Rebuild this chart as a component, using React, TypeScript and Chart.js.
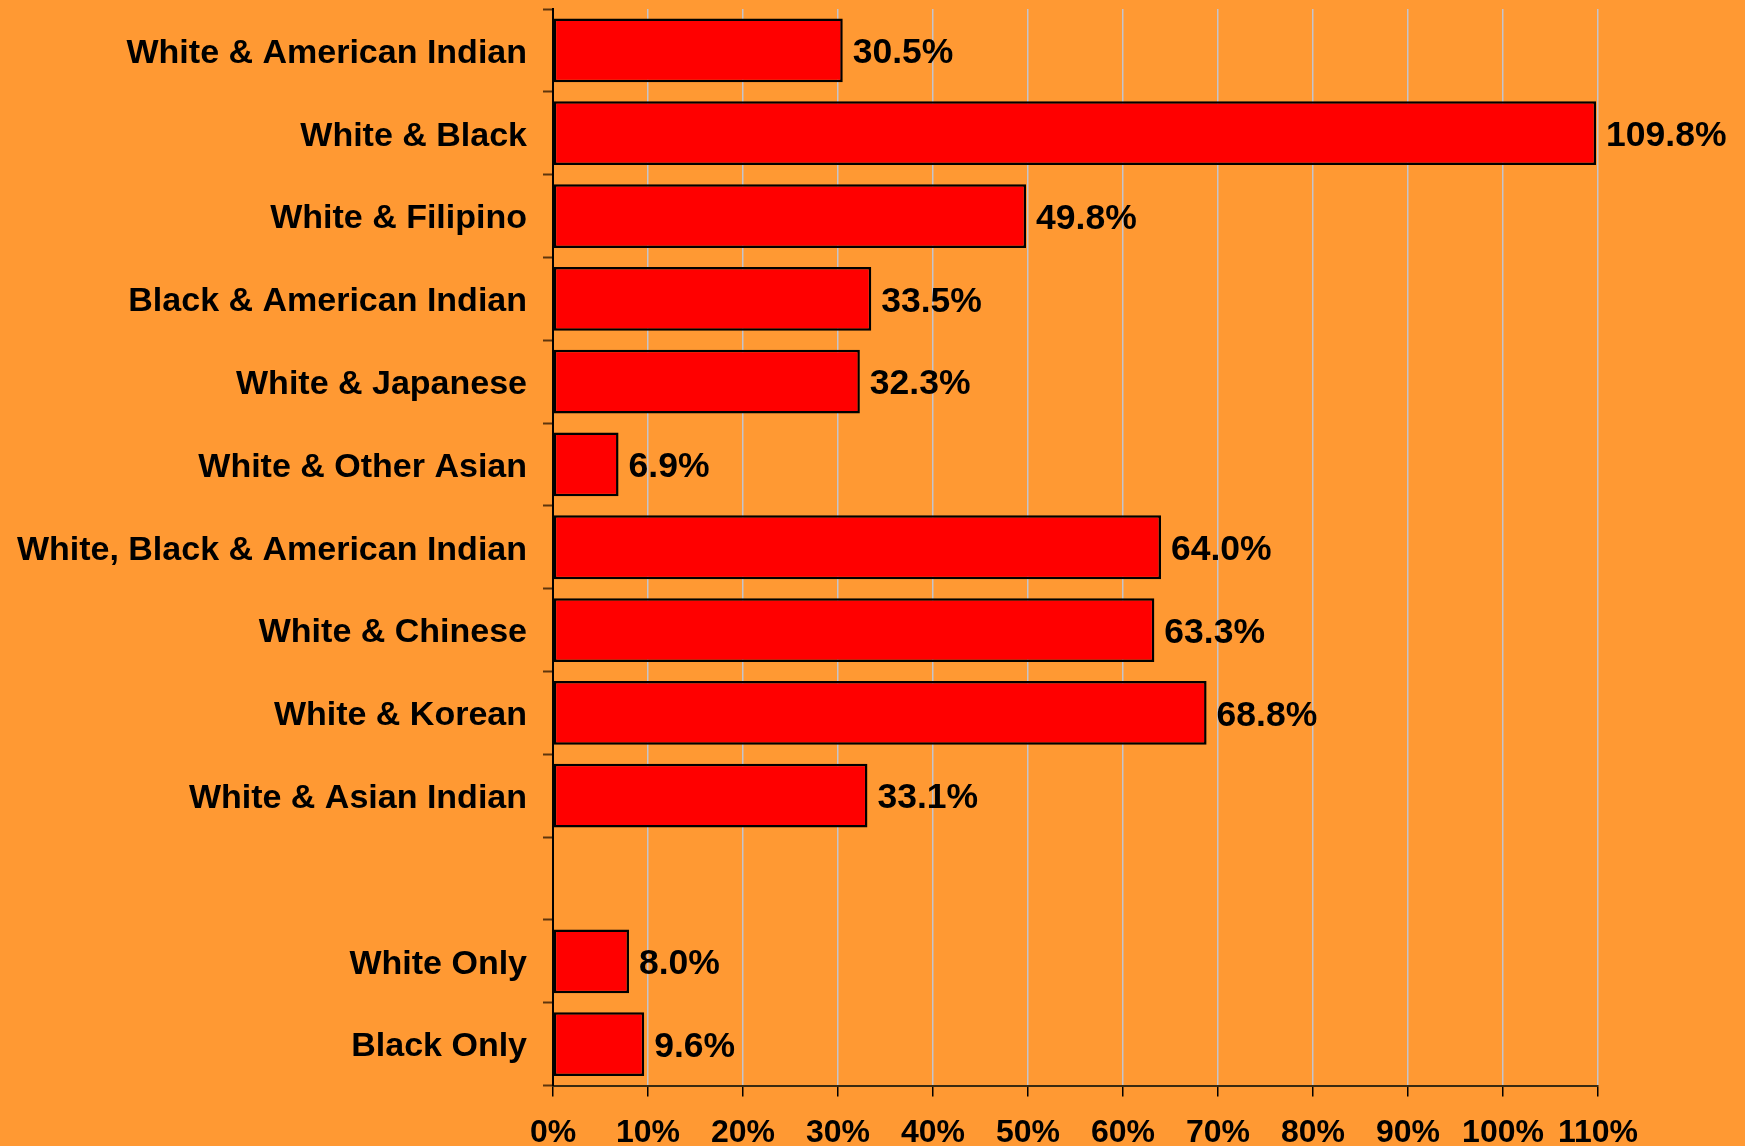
import React, { useEffect, useRef } from "react";
import { Chart, registerables } from "chart.js";

Chart.register(...registerables);

const categories: string[] = [
  "White & American Indian",
  "White & Black",
  "White & Filipino",
  "Black & American Indian",
  "White & Japanese",
  "White & Other Asian",
  "White, Black & American Indian",
  "White & Chinese",
  "White & Korean",
  "White & Asian Indian",
  "",
  "White Only",
  "Black Only",
];

const values: (number | null)[] = [
  30.5, 109.8, 49.8, 33.5, 32.3, 6.9, 64.0, 63.3, 68.8, 33.1, null, 8.0, 9.6,
];

const xTickValues: number[] = [0, 10, 20, 30, 40, 50, 60, 70, 80, 90, 100, 110];

const FONT = "'Liberation Sans', Arial, sans-serif";
const BG = "#FF9933";

const bgPlugin = {
  id: "bgFill",
  beforeDraw(chart: any) {
    const ctx = chart.ctx;
    ctx.save();
    ctx.fillStyle = BG;
    ctx.fillRect(0, 0, chart.width, chart.height);
    ctx.restore();
  },
};

const valueLabelPlugin = {
  id: "valueLabels",
  afterDatasetsDraw(chart: any) {
    const ctx = chart.ctx;
    const meta = chart.getDatasetMeta(0);
    const data = chart.data.datasets[0].data;
    ctx.save();
    ctx.font = `bold 35.5px ${FONT}`;
    ctx.fillStyle = "#000";
    ctx.textAlign = "left";
    ctx.textBaseline = "middle";
    meta.data.forEach((el: any, i: number) => {
      const v = data[i];
      if (v === null || v === undefined) return;
      ctx.fillText(`${Number(v).toFixed(1)}%`, el.x + 10, el.y + 3);
    });
    ctx.restore();
  },
};

export default function App() {
  const ref = useRef<HTMLCanvasElement | null>(null);

  useEffect(() => {
    document.body.style.margin = "0";
    document.body.style.background = BG;
    if (!ref.current) return;
    const chart = new Chart(ref.current, {
      type: "bar",
      data: {
        labels: categories,
        datasets: [
          {
            data: values,
            backgroundColor: "#FF0000",
            borderColor: "#000000",
            borderWidth: 2.5,
            borderSkipped: false,
            barPercentage: 0.77,
            categoryPercentage: 1,
          },
        ],
      },
      options: {
        indexAxis: "y",
        animation: false,
        responsive: false,
        maintainAspectRatio: false,
        layout: { padding: { left: 0, right: 147, top: 9, bottom: 0 } },
        plugins: {
          legend: { display: false },
          tooltip: { enabled: false },
        },
        scales: {
          x: {
            type: "linear",
            min: 0,
            max: 110,
            afterFit(scale: any) {
              scale.height = 60.5;
              scale.paddingLeft = 0;
              scale.paddingRight = 0;
            },
            afterBuildTicks(scale: any) {
              scale.ticks = xTickValues.map((v) => ({ value: v }));
            },
            ticks: {
              callback: (v: any) => `${v}%`,
              color: "#000",
              font: { family: FONT, size: 32, weight: "bold" },
              padding: 17,
              maxRotation: 0,
              autoSkip: false,
            },
            grid: {
              color: "#C4C4CC",
              lineWidth: 1.5,
              tickColor: "#000",
              tickLength: 11,
              tickWidth: 1.5,
            },
            border: { display: true, color: "#3a2a10", width: 2 },
          },
          y: {
            type: "category",
            offset: true,
            afterFit(scale: any) {
              scale.width = 553;
              scale.paddingTop = 0;
              scale.paddingBottom = 0;
            },
            ticks: {
              color: "#000",
              font: { family: FONT, size: 34, weight: "bold" },
              padding: 16,
              labelOffset: 3,
              autoSkip: false,
            },
            grid: {
              offset: true,
              drawOnChartArea: false,
              tickColor: "rgba(40,20,0,0.75)",
              tickLength: 10,
              tickWidth: 2,
            },
            border: { display: true, color: "#000", width: 2 },
          },
        },
      },
      plugins: [bgPlugin, valueLabelPlugin],
    });
    return () => chart.destroy();
  }, []);

  return (
    <div style={{ position: "fixed", left: 0, top: 0, width: 1745, height: 1146, background: BG }}>
      <canvas ref={ref} width={1745} height={1146} style={{ display: "block", width: 1745, height: 1146 }} />
    </div>
  );
}
